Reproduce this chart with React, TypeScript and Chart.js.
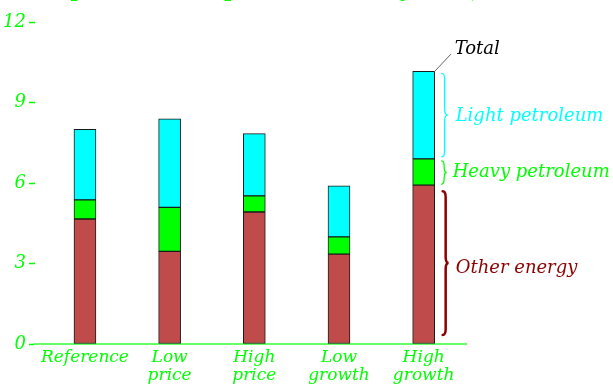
import React, { useEffect, useRef } from "react";
import { Chart, registerables } from "chart.js";

Chart.register(...registerables);

const categories: string[][] = [["Reference"], ["Low", "price"], ["High", "price"], ["Low", "growth"], ["High", "growth"]];
const otherEnergy = [4.66, 3.45, 4.92, 3.35, 5.92];
const heavyPetroleum = [0.71, 1.64, 0.6, 0.64, 0.98];
const lightPetroleum = [2.63, 3.3, 2.32, 1.9, 3.26];
const yTickValues = [0, 3, 6, 9, 12];
const titleText = "Components of Liquids Demand by Case,";

const FONT = "'DejaVu Serif', serif";

function drawBrace(ctx: CanvasRenderingContext2D, x: number, top: number, bottom: number, w: number) {
  const mid = (top + bottom) / 2;
  const r = Math.min(6, (bottom - top) / 4);
  const xm = x + w / 2;
  ctx.beginPath();
  ctx.moveTo(x, top);
  ctx.quadraticCurveTo(xm, top, xm, top + r);
  ctx.lineTo(xm, mid - r);
  ctx.quadraticCurveTo(xm, mid, x + w, mid);
  ctx.quadraticCurveTo(xm, mid, xm, mid + r);
  ctx.lineTo(xm, bottom - r);
  ctx.quadraticCurveTo(xm, bottom, x, bottom);
  ctx.stroke();
}

const annotationPlugin = {
  id: "annotations",
  afterDraw(chart: any) {
    const ctx: CanvasRenderingContext2D = chart.ctx;
    const xs = chart.scales.x;
    const ys = chart.scales.y;
    const i = categories.length - 1;
    const meta = chart.getDatasetMeta(0);
    const bar = meta.data[i];
    const half = bar.width / 2;
    const barRight = xs.getPixelForValue(i) + half;
    const y0 = ys.getPixelForValue(0);
    const y1 = ys.getPixelForValue(otherEnergy[i]);
    const y2 = ys.getPixelForValue(otherEnergy[i] + heavyPetroleum[i]);
    const y3 = ys.getPixelForValue(otherEnergy[i] + heavyPetroleum[i] + lightPetroleum[i]);
    ctx.save();
    ctx.lineCap = "round";
    ctx.strokeStyle = "#8b0000";
    ctx.lineWidth = 2.5;
    drawBrace(ctx, barRight + 8, y1 + 6, y0 - 9, 6);
    ctx.strokeStyle = "#00ff00";
    ctx.lineWidth = 1.3;
    drawBrace(ctx, barRight + 7, y2 + 2, y1 - 1, 5);
    ctx.strokeStyle = "#00ffff";
    ctx.lineWidth = 1.3;
    drawBrace(ctx, barRight + 7, y3 + 2, y2 - 2, 6);
    ctx.strokeStyle = "#666";
    ctx.lineWidth = 1;
    ctx.beginPath();
    ctx.moveTo(barRight, y3);
    ctx.lineTo(barRight + 16, y3 - 17);
    ctx.stroke();
    ctx.font = `italic 18px ${FONT}`;
    ctx.textBaseline = "middle";
    ctx.textAlign = "left";
    ctx.fillStyle = "#000";
    ctx.fillText("Total", barRight + 20, y3 - 22);
    ctx.fillStyle = "#00ffff";
    ctx.fillText("Light petroleum", barRight + 21, (y3 + y2) / 2 + 1);
    ctx.fillStyle = "#00ff00";
    ctx.fillText("Heavy petroleum", barRight + 18, (y2 + y1) / 2);
    ctx.fillStyle = "#8b0000";
    ctx.fillText("Other energy", barRight + 21, (y1 + y0) / 2 + 4);
    ctx.font = `bold 20px ${FONT}`;
    ctx.fillStyle = "#00ff00";
    ctx.textBaseline = "alphabetic";
    ctx.textAlign = "left";
    ctx.fillText(titleText, 20, -3);
    ctx.restore();
  },
};

export default function App() {
  const ref = useRef<HTMLCanvasElement | null>(null);
  useEffect(() => {
    document.body.style.margin = "0";
    const toPts = (arr: number[]) => arr.map((v, i) => ({ x: i, y: v }));
    const common = { borderColor: "#1a1a1a", borderWidth: 1, barThickness: 22, borderSkipped: false as any };
    const chart = new Chart(ref.current as HTMLCanvasElement, {
      type: "bar",
      data: {
        datasets: [
          { label: "Other energy", data: toPts(otherEnergy), backgroundColor: "#c04b4b", ...common },
          { label: "Heavy petroleum", data: toPts(heavyPetroleum), backgroundColor: "#00ff00", ...common },
          { label: "Light petroleum", data: toPts(lightPetroleum), backgroundColor: "#00ffff", ...common },
        ],
      } as any,
      options: {
        animation: false,
        responsive: false,
        layout: { padding: { left: 0, right: 147, top: 22, bottom: 0 } },
        plugins: { legend: { display: false }, tooltip: { enabled: false }, title: { display: false } },
        scales: {
          x: {
            type: "linear",
            stacked: true,
            offset: false,
            min: -0.59,
            max: 4.5,
            afterBuildTicks: (s: any) => {
              s.ticks = categories.map((_, i) => ({ value: i }));
            },
            afterFit: (s: any) => {
              s.height = 40;
            },
            ticks: {
              autoSkip: false,
              maxRotation: 0,
              padding: 5,
              color: "#00ff00",
              font: { family: FONT, style: "italic", size: 17, lineHeight: 1.05 },
              callback: (v: any) => categories[Math.round(v)] ?? "",
            },
            grid: { display: true, drawOnChartArea: false, drawTicks: false },
            border: { display: true, color: "#66ff66", width: 2 },
          },
          y: {
            stacked: true,
            min: 0,
            max: 12,
            afterBuildTicks: (s: any) => {
              s.ticks = yTickValues.map((v) => ({ value: v }));
            },
            afterFit: (s: any) => {
              s.width = 35;
            },
            ticks: {
              padding: 3,
              color: "#00ff00",
              font: { family: FONT, style: "italic", size: 18 },
            },
            grid: { display: true, drawOnChartArea: false, drawTicks: true, tickLength: 6, tickColor: "#00ff00", tickWidth: 1.5 },
            border: { display: false },
          },
        },
      } as any,
      plugins: [annotationPlugin],
    });
    return () => chart.destroy();
  }, []);
  return (
    <div style={{ width: 613, height: 384, background: "#fff" }}>
      <canvas ref={ref} width={613} height={384} style={{ display: "block" }} />
    </div>
  );
}
